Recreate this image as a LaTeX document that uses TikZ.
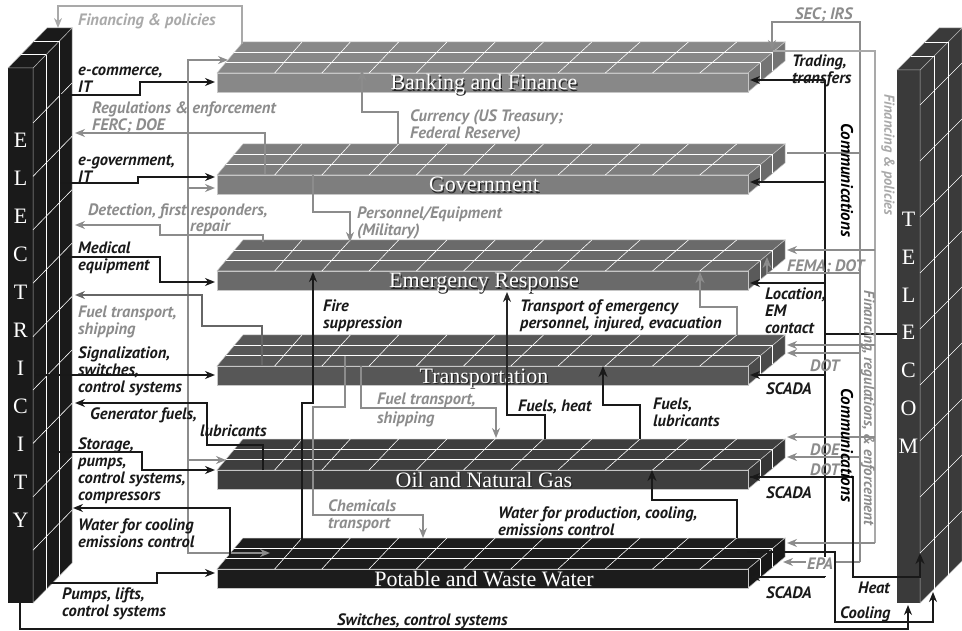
\documentclass[tikz,border=0pt]{standalone}
\usepackage{fontspec}
\setmainfont{Liberation Serif}
\newfontfamily\lblfont{PT Sans}
\usetikzlibrary{arrows.meta}

\definecolor{bankc}{HTML}{888888}
\definecolor{govc}{HTML}{7E7E7E}
\definecolor{emerc}{HTML}{6A6A6A}
\definecolor{transc}{HTML}{575757}
\definecolor{oilc}{HTML}{3E3E3E}
\definecolor{waterc}{HTML}{1C1C1C}
\definecolor{elecc}{HTML}{1A1A1A}
\definecolor{telc}{HTML}{3A3A3A}
\definecolor{linkgray}{HTML}{8C8C8C}
\definecolor{paleg}{HTML}{A9A9A9}

\tikzset{
  lbl/.style={font=\lblfont\bfseries\itshape\fontsize{16.5}{17}\selectfont, align=left, anchor=north west,
    yshift=10.5pt, execute at begin node=\strut, inner sep=0pt, text=black!90},
  glbl/.style={lbl, text=linkgray},
  plbl/.style={lbl, text=paleg},
  vlbl/.style={font=\lblfont\bfseries\itshape\fontsize{17}{17}\selectfont, rotate=-90, inner sep=0pt},
  blk/.style={line width=2pt, black!90},
  gry/.style={line width=1.6pt, linkgray},
  hollow/.style={-{Stealth[open, length=11pt, width=9pt]}},
  sector/.style={font=\fontsize{22}{22}\selectfont, text=white, inner sep=0pt, anchor=base},
  gridline/.style={white, line width=0.6pt},
}

% #1 node name, #2 y of back edge, #3 colour, #4 title
\newcommand\slab[4]{%
  \fill[#3, draw=gray!45, line width=0.5pt] (217,#2+31) -- (243,#2) -- (785,#2) -- (748,#2+31) -- cycle;
  \fill[#3!85!black, draw=gray!45, line width=0.5pt] (748,#2+31) -- (785,#2) -- (785,#2+19) -- (748,#2+50) -- cycle;
  \fill[#3, draw=gray!45, line width=0.5pt] (217,#2+31) rectangle (748,#2+50);
  \foreach \f in {0.333,0.667}{
    \draw[gridline] (217+26*\f,#2+31-31*\f) -- (748+37*\f,#2+31-31*\f);
    \draw[gridline] (748+37*\f,#2+31-31*\f) -- (748+37*\f,#2+50-31*\f);
  }
  \foreach \k in {0,...,9}{
    \pgfmathsetmacro\slabxb{302+48.3*\k}
    \pgfmathsetmacro\slabdx{26+12*(\slabxb-243)/542}
    \draw[gridline] (\slabxb,#2) -- (\slabxb-\slabdx,#2+31);
  }
  \node[sector, text=black!85] (#1-shade) at (485.2,#2+49.2) {#4};
  \node[sector] (#1) at (484,#2+48) {#4};
}

\begin{document}
\begin{tikzpicture}[x=1pt, y=-1pt, >={Stealth[length=10pt, width=8pt]}]
  \useasboundingbox (0,0) rectangle (962,631);
  % \draw[gray, very thin, step=50] (0,0) grid (962,631);

  % electricity pillar
  \fill[elecc] (8,68) rectangle (33,603);
  \fill[elecc, draw=gray!60, line width=0.5pt] (33,68) -- (72,28) -- (72,563) -- (33,603) -- cycle;
  \fill[elecc, draw=gray!60, line width=0.5pt] (8,68) -- (47,28) -- (72,28) -- (33,68) -- cycle;
  \foreach \f in {0.333,0.667}{
    \draw[gridline] (33+39*\f,68-40*\f) -- (33+39*\f,603-40*\f);
    \draw[gridline] (8+39*\f,68-40*\f) -- (33+39*\f,68-40*\f);
  }
  \foreach \y in {123,176.4,...,551} \draw[gridline] (33,\y) -- (72,\y-40);
  \foreach \c [count=\i from 0] in {E,L,E,C,T,R,I,C,I,T,Y}
    \node[sector] (elec\i) at (20.5,147.5+38*\i) {\c};

  % telecom pillar
  \fill[telc] (897,70) rectangle (920,603);
  \fill[telc, draw=gray!60, line width=0.5pt] (920,70) -- (962,28) -- (962,561) -- (920,603) -- cycle;
  \fill[telc, draw=gray!60, line width=0.5pt] (897,70) -- (939,28) -- (962,28) -- (920,70) -- cycle;
  \foreach \f in {0.333,0.667}{
    \draw[gridline] (920+42*\f,70-42*\f) -- (920+42*\f,603-42*\f);
    \draw[gridline] (897+42*\f,70-42*\f) -- (920+42*\f,70-42*\f);
  }
  \foreach \y in {105,161,...,553} \draw[gridline] (920,\y) -- (962,\y-42);
  \foreach \c [count=\i from 0] in {T,E,L,E,C,O,M}
    \node[sector] (tel\i) at (908.5,226.5+37.8*\i) {\c};

  % sectors
  \slab{bank}{42}{bankc}{Banking and Finance}
  \slab{gov}{144}{govc}{Government}
  \slab{emer}{240}{emerc}{Emergency Response}
  \slab{trans}{335}{transc}{Transportation}
  \slab{oil}{439}{oilc}{Oil and Natural Gas}
  \slab{water}{538}{waterc}{Potable and Waste Water}

  % left side
  \draw[gry, paleg, ->] (242,44) -- (242,6) -- (58,6) -- (58,28);
  \draw[blk, ->] (60,95) -- (140,95) -- (140,82) -- (215,82);
  \draw[gry, <->] (228,60) -- (188,60) -- (188,553) -- (270,553);
  \draw[gry, ->] (188,188) -- (215,188);
  \draw[gry, ->] (188,460) -- (226,460);
  \draw[gry, ->] (265,174) -- (265,133) -- (75,133);
  \draw[blk, ->] (60,183) -- (138,183) -- (138,177) -- (215,177);
  \draw[gry, ->] (263,242) -- (263,235) -- (160,235) -- (160,225) -- (75,225);
  \draw[blk, ->] (60,257) -- (160,257) -- (160,282) -- (215,282);
  \draw[gry, black!60, ->] (262,365) -- (262,326) -- (202,326) -- (202,295) -- (75,295);
  \draw[blk, ->] (35,375) -- (215,375);
  \draw[blk, ->] (263,470) -- (263,445) -- (207,445) -- (207,403) -- (75,403);
  \draw[blk, ->] (52,452) -- (142,452) -- (142,470) -- (215,470);
  \draw[blk, ->] (230,557) -- (230,508) -- (73,508);
  \draw[blk, ->] (52,557) -- (52,583) -- (157,583) -- (157,573) -- (215,573);
  \draw[blk, ->] (20,603) -- (20,629) -- (908,629) -- (908,605);

  % between sectors
  \draw[gry, hollow] (398,144) -- (398,112) -- (362,112) -- (362,70);
  \draw[gry, ->] (313,175) -- (313,212) -- (350,212) -- (350,242);
  \draw[blk, ->] (302,540) -- (302,403) -- (313,403) -- (313,272);
  \draw[gry, ->] (345,356) -- (345,407) -- (313,407) -- (313,515) -- (423,515) -- (423,538);
  \draw[gry, ->] (361,366) -- (361,408) -- (496,408) -- (496,438);
  \draw[blk] (545,439) -- (545,415) -- (507,415) -- (507,383);
  \draw[line width=2.6pt, black!85, ->] (507,383) -- (507,292);
  \draw[blk, hollow] (640,439) -- (640,405) -- (603,405) -- (603,366);
  \draw[blk, hollow] (737,538) -- (737,500) -- (652,500) -- (652,470);
  \draw[gry, hollow] (737,335) -- (737,307) -- (700,307) -- (700,272);

  % right side
  \draw[blk] (825,80) -- (825,577);
  \foreach \y in {80,182,283,375,477,577} \draw[blk, ->] (825,\y) -- (750,\y);
  \draw[blk] (825,334) -- (897,334);
  \draw[gry, ->] (787,153) -- (860,153) -- (860,22) -- (772,22) -- (772,50);
  \draw[gry] (860,153) -- (860,562);
  \draw[gry, hollow] (860,273) -- (767,273) -- (767,257);
  \draw[gry, ->] (860,353) -- (787,353);
  \draw[gry, ->] (860,457) -- (787,457);
  \draw[gry, ->] (860,562) -- (783,562);
  \draw[gry, paleg] (773,51) -- (875,51) -- (875,543);
  \foreach \y in {250,345,437,543} \draw[gry, ->] (875,\y) -- (787,\y);
  \draw[blk, hollow] (750,477) -- (853,477) -- (853,577) -- (920,577) -- (920,553);
  \draw[blk, ->] (747,552) -- (835,552) -- (835,622) -- (933,622) -- (933,592);

  % labels, left
  \node[plbl] (finl) at (78,24) {Financing \& policies};
  \node[lbl] (ecom) at (78,77) {e-commerce,\\IT};
  \node[glbl] (regl) at (92,112) {Regulations \& enforcement\\FERC; DOE};
  \node[lbl] (egov) at (78,165) {e-government,\\IT};
  \node[glbl] (detl) at (88,214) {Detection, first responders,};
  \node[glbl] (repl) at (190,230) {repair};
  \node[lbl] (medl) at (78,252) {Medical\\equipment};
  \node[glbl] (fuell) at (78,316) {Fuel transport,\\shipping};
  \node[lbl] (sigl) at (78,357) {Signalization,\\switches,\\control systems};
  \node[lbl] (genl) at (90,418) {Generator fuels,};
  \node[lbl] (lubl) at (200,435) {lubricants};
  \node[lbl] (stol) at (78,448) {Storage,\\pumps,\\control systems,\\compressors};
  \node[lbl] (cooll) at (78,529) {Water for cooling\\emissions control};
  \node[lbl] (pumpl) at (62,598) {Pumps, lifts,\\control systems};
  \node[lbl] (swl) at (337,624) {Switches, control systems};

  % labels, middle
  \node[glbl] (curl) at (410,120) {Currency (US Treasury;\\Federal Reserve)};
  \node[glbl] (perl) at (357,217) {Personnel/Equipment\\(Military)};
  \node[lbl] (firel) at (323,310) {Fire\\suppression};
  \node[lbl] (evacl) at (520,310) {Transport of emergency\\personnel, injured, evacuation};
  \node[glbl] (fuel2l) at (377,403) {Fuel transport,\\[2pt]shipping};
  \node[lbl] (heatl) at (518,410) {Fuels, heat};
  \node[lbl] (lub2l) at (653,408) {Fuels,\\lubricants};
  \node[glbl] (chel) at (328,510) {Chemicals\\transport};
  \node[lbl] (wprl) at (498,517) {Water for production, cooling,\\emissions control};

  % labels, right
  \node[glbl] (secl) at (795,18) {SEC; IRS};
  \node[lbl] (tradl) at (792,65) {Trading,\\transfers};
  \node[glbl] (femal) at (787,270) {FEMA; DOT};
  \node[lbl] (locl) at (765,298) {Location,\\EM\\contact};
  \node[glbl] (dot1l) at (810,370) {DOT};
  \node[lbl] (sc1l) at (766,393) {SCADA};
  \node[glbl] (doel) at (810,454) {DOE};
  \node[glbl] (dot2l) at (810,474) {DOT};
  \node[lbl] (sc2l) at (766,497) {SCADA};
  \node[glbl, fill=white, inner sep=1pt] (epal) at (806,567) {EPA};
  \node[lbl] (sc3l) at (766,597) {SCADA};
  \node[lbl] (heat) at (858,592) {Heat};
  \node[lbl] (cool) at (840,617) {Cooling};
  \node[vlbl] (com1l) at (847,180) {Communications};
  \node[vlbl] (com2l) at (847,445) {Communications};
  \node[vlbl, text=paleg, font=\lblfont\bfseries\itshape\fontsize{14.5}{15}\selectfont] (fin2l) at (888,155) {Financing \& policies};
  \node[vlbl, text=linkgray, font=\lblfont\bfseries\itshape\fontsize{15}{15}\selectfont] (fin3l) at (868,408) {Financing, regulations, \& enforcement};
\end{tikzpicture}
\end{document}
